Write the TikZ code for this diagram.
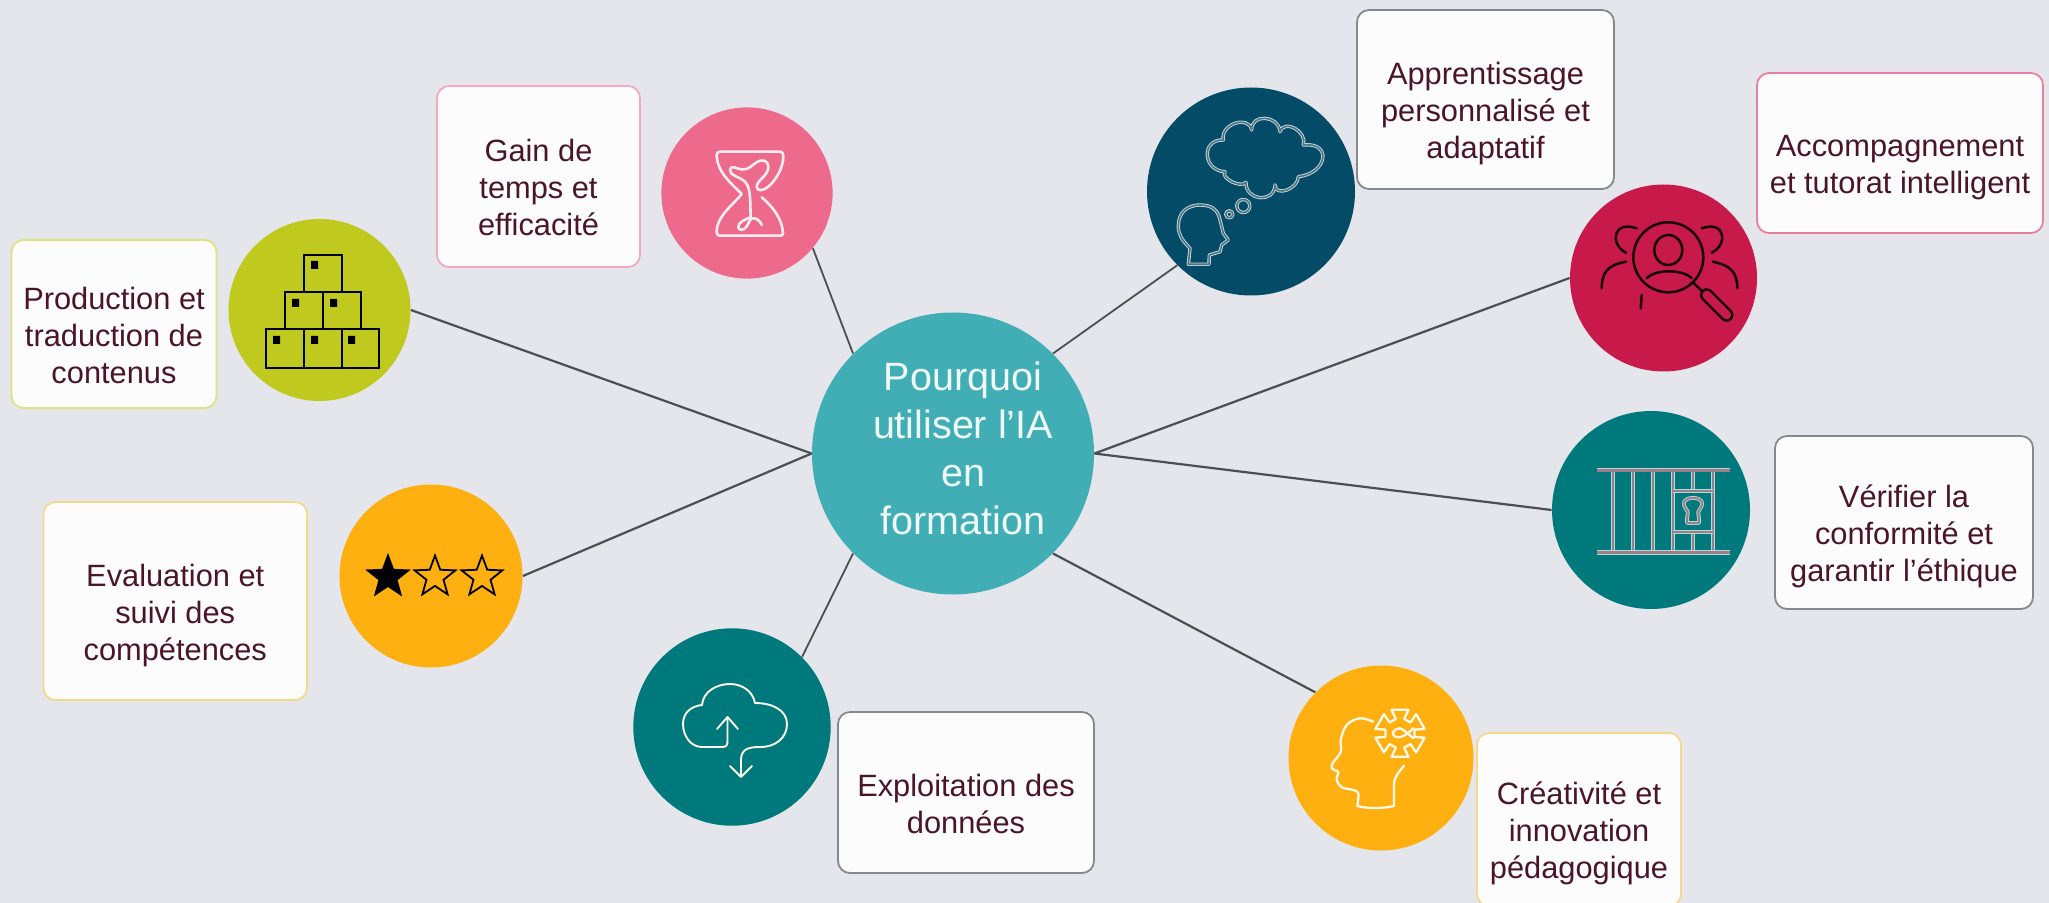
\documentclass[tikz,border=0pt]{standalone}
\usepackage{fontspec}
\setmainfont{Liberation Sans}
\usetikzlibrary{shapes.geometric}
\definecolor{bg}{HTML}{E4E6EB}
\definecolor{ink}{HTML}{4B1528}
\definecolor{wire}{HTML}{4A4F55}
\definecolor{cpink}{HTML}{EE6A8C}
\definecolor{colive}{HTML}{BFC91E}
\definecolor{camber}{HTML}{FDB010}
\definecolor{cteal}{HTML}{00797D}
\definecolor{cnavy}{HTML}{034B66}
\definecolor{ccrim}{HTML}{C8194B}
\definecolor{ccenter}{HTML}{41AEB5}
\definecolor{epink}{HTML}{F5A9C0}
\definecolor{eolive}{HTML}{DDE37F}
\definecolor{eamber}{HTML}{F3D98A}
\definecolor{egray}{HTML}{85898E}
\definecolor{ecrim}{HTML}{E77F9F}
\definecolor{boxfill}{HTML}{FCFCFD}
\newcommand\lbl[1]{\raisebox{-11.1pt}[0pt][0pt]{\begin{tabular}{@{}c@{}}#1\end{tabular}}}
\tikzset{
  disc/.style={circle,inner sep=0pt,draw=none,fill=#1},
  card/.style={rectangle,rounded corners=6pt,line width=0.9pt,draw=#1,fill=boxfill,inner sep=0pt,
    text=ink,font=\fontsize{15.4}{18.5}\selectfont},
  spoke/.style={draw=wire,line width=1.1pt},
  whiteicon/.style={draw=white!92!camber,line width=1.15pt,line join=round,line cap=round},
  blackicon/.style={draw=black,line width=1.3pt,line join=miter},
  darkicon/.style={draw=black!90!ccrim,line width=1.25pt,line cap=round},
  hollow/.style={draw=white!78!cnavy,line width=0.45pt,double=black!35!white!45!cnavy,double distance=0.8pt,line join=round},
  bar/.style={draw=white!72!cteal,line width=0.45pt,double=white!45!ink,double distance=1pt,line join=round},
  thickbar/.style={bar,double distance=1.5pt},
  startip/.style={star,star points=5,star point ratio=2.4,inner sep=0pt,minimum size=21.5pt,draw=black,line width=0.9pt},
}
\begin{document}
\begin{tikzpicture}[x=0.5pt,y=-0.5pt]
\useasboundingbox (0,0) rectangle (2049,903);
\clip (0,0) rectangle (2049,903);
\fill[bg] (0,0) rectangle (2049,903);

% discs
\node[disc=ccenter,minimum size=141pt,text=white!92!ccenter,align=center,
  font=\fontsize{19.75}{24}\selectfont] (hub) at (953,453.5) {\hspace*{5pt}\raisebox{-5pt}[0pt][0pt]{\begin{tabular}{@{}c@{}}Pourquoi\\utiliser l’IA\\en\\formation\end{tabular}}\hspace*{-5pt}};
\node[disc=cpink,minimum size=85.6pt] (dgain) at (747,193) {};
\node[disc=colive,minimum size=91pt] (dprod) at (319.5,310) {};
\node[disc=camber,minimum size=91.5pt] (deval) at (431,576) {};
\node[disc=cteal,minimum size=98.7pt] (ddata) at (732,727) {};
\node[disc=camber,minimum size=92.5pt] (dcrea) at (1381,758) {};
\node[disc=cteal,minimum size=99pt] (dconf) at (1651,510) {};
\node[disc=ccrim,minimum size=93.5pt] (dtut) at (1663.5,278) {};
\node[disc=cnavy,minimum size=104pt] (dappr) at (1251,191.5) {};

% cards
\node[card=epink,minimum width=101.5pt,minimum height=90.5pt] (bgain) at (538.5,176.5) {\lbl{Gain de\\temps et\\efficacité}};
\node[card=eolive,minimum width=102.5pt,minimum height=84pt] (bprod) at (114,324) {\lbl{Production et\\traduction de\\contenus}};
\node[card=egray,minimum width=128.5pt,minimum height=89.5pt] (bappr) at (1485.5,99.5) {\lbl{Apprentissage\\personnalisé et\\adaptatif}};
\node[card=ecrim,minimum width=143pt,minimum height=80pt] (btut) at (1900,153) {\lbl{Accompagnement\\et tutorat intelligent}};
\node[card=egray,minimum width=129pt,minimum height=86.5pt] (bconf) at (1904,522.5) {\lbl{Vérifier la\\conformité et\\garantir l’éthique}};
\node[card=eamber,minimum width=102pt,minimum height=86.5pt] (bcrea) at (1579,819.5) {\lbl{Créativité et\\innovation\\pédagogique}};
\node[card=eamber,minimum width=131.75pt,minimum height=99pt] (beval) at (175.25,601) {\lbl{Evaluation et\\suivi des\\compétences}};
\node[card=egray,minimum width=128pt,minimum height=80.5pt] (bdata) at (966,792.5) {\lbl{Exploitation des\\données}};

% connectors
\draw[spoke] (hub.180) -- (dprod.0);
\draw[spoke] (hub.180) -- (deval.0);
\draw[spoke,line width=0.9pt] (hub.135) -- (dgain.-40);
\draw[spoke,line width=0.9pt] (hub.45) -- (dappr.225);
\draw[spoke] (hub.0) -- (dtut.180);
\draw[spoke] (hub.0) -- (dconf.180);
\draw[spoke] (hub.-45) -- (dcrea.135);
\draw[spoke,line width=0.9pt] (hub.-135) -- (ddata.45);

% icon: hourglass with sprout
\draw[whiteicon,draw=white!88!cpink,line width=1.3pt] (761.7,197.3) .. controls (772,206) and (782,218) .. (783,233)
  .. controls (783,235) and (782,235.7) .. (780,235.7) -- (720,235.7)
  .. controls (718,235.7) and (716.7,235) .. (716.7,232) .. controls (716.7,216) and (732,206) .. (741.7,194)
  .. controls (732,184) and (716.7,172) .. (716.7,155) .. controls (716.7,153) and (717.5,151.7) .. (720,151.7)
  -- (780,151.7) .. controls (782,151.7) and (783.3,153) .. (783.3,156)
  .. controls (783.3,168) and (776,180) .. (768.3,186.7) .. controls (764,190.5) and (757,192) .. (756.7,187)
  .. controls (756.5,180) and (768.5,176) .. (768.3,167) .. controls (768,160) and (762,159) .. (757,162)
  .. controls (752,165) and (749,170) .. (742,169.5) .. controls (736,169) and (731,164) .. (730,170)
  .. controls (729,175) and (740,177) .. (745,181.7) .. controls (751,188) and (750,200) .. (750.7,217.3)
  .. controls (746,219) and (738,222) .. (738.3,227) .. controls (738.5,231) and (744,231) .. (747,226)
  .. controls (749,222.5) and (750,219) .. (752,218.3) .. controls (756,217.5) and (760,220.5) .. (761.7,225);

% icon: stacked boxes
\draw[blackicon] (304,255) rectangle (342,292);
\draw[blackicon] (285,292) rectangle (323,329) (323,292) rectangle (361,329);
\draw[blackicon] (266,329) rectangle (304,368) (304,329) rectangle (342,368) (342,329) rectangle (379,368);
\fill[black] (311,261) rectangle (318,269) (292,299) rectangle (299,307) (330,299) rectangle (337,307)
  (273,336) rectangle (280,344) (311,336) rectangle (318,344) (348,336) rectangle (355,344);

% icon: stars
\node[startip,fill=black] (star1) at (388,577) {};
\node[startip] (star2) at (435,577) {};
\node[startip] (star3) at (482,577) {};

% icon: cloud with arrows
\draw[whiteicon,line width=0.95pt] (722,747) -- (702,747) .. controls (690,747) and (683,735) .. (683,724)
  .. controls (683,712) and (692,706) .. (702,705) .. controls (703,692) and (716,684) .. (730,684)
  .. controls (743,684) and (753,692) .. (755,703) .. controls (772,703) and (787,710) .. (787,724)
  .. controls (787,738) and (775,747) .. (761,747) .. controls (750,747) and (741,748) .. (741,760) -- (741,776);
\draw[whiteicon,line width=0.95pt] (730,766) -- (741,777) -- (752,766);
\draw[whiteicon,line width=0.95pt] (722,747) .. controls (727,747) and (727.5,745) .. (727.5,740) -- (727.5,717);
\draw[whiteicon,line width=0.95pt] (717,729) -- (727.5,717) -- (738,729);

% icon: head with gear
\draw[whiteicon] plot[smooth,tension=0.6] coordinates {(1373.3,721.7) (1360,718.3) (1346.7,725) (1340.7,740) (1340.7,751.7) (1331.7,765) (1334,770) (1338.3,771.7) (1336.7,780) (1341.7,787.3) (1353.3,790) (1358.3,793.3) (1357.3,806)}
  .. controls (1370,809.5) and (1385,808) .. (1394,806) -- (1394,785)
  .. controls (1394,776) and (1400,771) .. (1404,765.7);
\begin{scope}[shift={(1400,733.3)}]
\draw[whiteicon] (30-20:25)
  \foreach \a in {30,90,...,330}{ -- (\a-20:25) -- (\a+20:25) -- (\a+16:15) -- (\a+44:15)} -- cycle;
\end{scope}
\draw[whiteicon] plot[smooth,tension=0.7] coordinates {(1413.3,728.3) (1403.3,736) (1395,736.7) (1393.3,731.7) (1400,728.3) (1407.3,733.3) (1413.3,738.3)};

% icon: thought cloud and head
\draw[hollow] (1223.3,140) .. controls (1220,124.4) and (1248.4,114.4) .. (1251.7,130)
  .. controls (1250.7,113.3) and (1279,115) .. (1280,131.7)
  .. controls (1284.4,118.4) and (1307.7,131.7) .. (1303.3,145)
  .. controls (1332.5,141.7) and (1327.5,173.4) .. (1298.3,176.7)
  .. controls (1298.3,189) and (1275,197.3) .. (1275,185)
  .. controls (1274.3,203.7) and (1245.3,201) .. (1246,182.3)
  .. controls (1241,188.6) and (1220,178) .. (1225,171.7)
  .. controls (1202.5,170.7) and (1200.8,139) .. (1223.3,140) -- cycle;
\draw[hollow] (1188.3,264.3) -- (1190,248.3) .. controls (1182,240) and (1178.3,235) .. (1178.3,226)
  .. controls (1178.3,212) and (1188,205) .. (1200,205) .. controls (1212,205) and (1218,210) .. (1220,220)
  -- (1223.3,233.3) -- (1228.3,240) -- (1221.7,245) -- (1220,251.7) -- (1209.3,255) -- (1209,264.3) -- cycle;
\draw[hollow] (1243.3,206) circle (6.5);
\draw[hollow] (1229.3,214.3) circle (3.5);

% icon: magnifier on people
\draw[darkicon] (1668.3,257.3) circle (35);
\draw[darkicon] (1668.3,250) ellipse (14 and 15);
\draw[darkicon] (1646.7,278.3) .. controls (1655,269) and (1683,269) .. (1691.7,278.3);
\draw[darkicon] (1692.5,282) -- (1702.7,291.7);
\draw[darkicon,line width=1.2pt,double=ccrim,double distance=4.4pt] (1706.7,295) -- (1726.7,315);
\draw[darkicon] (1636.7,228.3) .. controls (1612,220) and (1610,245) .. (1626,252.7);
\draw[darkicon] (1701.7,228.3) .. controls (1726,220) and (1728,245) .. (1711.7,252.7);
\draw[darkicon] (1626,261.7) .. controls (1608,265) and (1601.7,272) .. (1601.7,288.3);
\draw[darkicon] (1712.7,261.7) .. controls (1730,265) and (1737.3,272) .. (1737.3,288.3);
\draw[darkicon] (1641.7,295) -- (1640.7,308.3);

% icon: grid and keyhole
\foreach \vx in {1613,1633,1653,1673,1713}{
  \draw[bar] (\vx,470) -- (\vx,553);
}
\draw[bar] (1693,470) -- (1693,490.7);
\draw[bar] (1693,531.7) -- (1693,553);
\draw[bar] (1673,490.7) -- (1713,490.7);
\draw[bar] (1673,531.7) -- (1713,531.7);
\draw[bar] (1687,523) .. controls (1686,515) and (1690,513) .. (1686,509)
  .. controls (1681,502) and (1685,498) .. (1693,498) .. controls (1701,498) and (1705,502) .. (1700,509)
  .. controls (1696,513) and (1700,515) .. (1699,523) -- cycle;
\draw[thickbar] (1597,470) -- (1730,470);
\draw[thickbar] (1597,552.7) -- (1730,552.7);
\end{tikzpicture}
\end{document}
